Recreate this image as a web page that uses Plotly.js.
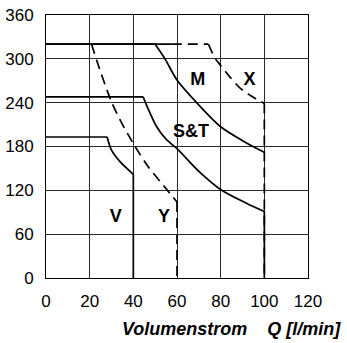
<!DOCTYPE html>
<html><head><meta charset="utf-8">
<script src="https://cdn.plot.ly/plotly-3.0.1.min.js"></script>
<style>html,body{margin:0;padding:0;background:#fff;}#c{width:347px;height:343px;}</style>
</head><body><div id="c"></div>
<script>
// V line
const vX = [0, 28, 30, 34, 40, 40];
const vY = [193, 193, 175, 159, 142, 0];
// Y line (dashed)
const yX = [20.9, 23.2, 30, 34.7, 40.8, 46.9, 53.7, 60, 60];
const yY = [320, 298, 241, 212, 180, 152, 127, 104, 0];
// S&T line
const stX = [0, 44.5, 47, 50.7, 55, 60, 70, 80.5, 92, 100, 100];
const stY = [248, 248, 230, 207, 190, 177, 146, 120, 102, 91, 0];
// M line
const mX = [0, 50, 54.5, 60, 69, 80, 90, 100];
const mY = [320, 320, 300, 271, 240, 207, 188, 172];
// common solid top line
const topX = [0, 57.6];
const topY = [320, 320];
// X line (dashed)
const xX = [57.6, 74.4, 77.4, 80, 84.3, 88.9, 95.7, 100, 100];
const xY = [320, 320, 301, 291, 275, 260, 246, 239, 0];
// labels
const labels = ["M", "X", "S&T", "V", "Y"];
const labelX = [69.5, 93.2, 66.4, 31.9, 54];
const labelY = [271, 271, 199, 83, 83];
const xTicks = [0, 20, 40, 60, 80, 100, 120];
const yTicks = [0, 60, 120, 180, 240, 300, 360];

const W = 1.7;
const solid = {color: '#000', width: W};
const dashed = {color: '#000', width: W, dash: '10px,6px'};
const traces = [];
// draw a line: linear segments outside [c0,c1], spline through curve part
function addLine(xs, ys, c0, c1, style) {
  if (c0 > 0) traces.push({x: xs.slice(0, c0 + 1), y: ys.slice(0, c0 + 1), mode: 'lines', line: style});
  traces.push({x: xs.slice(c0, c1 + 1), y: ys.slice(c0, c1 + 1), mode: 'lines',
    line: Object.assign({}, style, {shape: 'spline', smoothing: 0.8})});
  if (c1 < xs.length - 1) traces.push({x: xs.slice(c1), y: ys.slice(c1), mode: 'lines', line: style});
}
addLine(vX, vY, 1, 4, solid);
addLine(yX, yY, 0, 7, dashed);
addLine(stX, stY, 1, 9, solid);
addLine(mX, mY, 1, 7, solid);
traces.push({x: topX, y: topY, mode: 'lines', line: solid});
addLine(xX, xY, 1, 7, dashed);
traces.push({x: labelX, y: labelY, mode: 'text', text: labels,
  textfont: {family: 'Liberation Sans, Arial, sans-serif', size: 18, color: '#000', weight: 'bold'}});

const axisCommon = {
  showgrid: true, gridcolor: '#2a2a2a', gridwidth: 1,
  showline: true, linecolor: '#000', linewidth: 1, mirror: true,
  zeroline: false, ticks: 'outside', ticklen: 8, tickcolor: 'rgba(0,0,0,0)',
  tickfont: {family: 'Liberation Sans, Arial, sans-serif', size: 17, color: '#000'}
};
const layout = {
  width: 347, height: 343,
  margin: {l: 46, r: 39, t: 15, b: 65},
  paper_bgcolor: '#fff', plot_bgcolor: '#fff',
  showlegend: false,
  xaxis: Object.assign({}, axisCommon, {range: [0, 120], tickvals: xTicks, ticktext: xTicks.map(String)}),
  yaxis: Object.assign({}, axisCommon, {range: [0, 360], tickvals: yTicks, ticktext: yTicks.map(String)}),
  annotations: [{
    xref: 'paper', yref: 'paper', x: 1.1336, y: -0.194, xanchor: 'right', yanchor: 'middle',
    showarrow: false,
    text: '<b><i>Volumenstrom&nbsp;&nbsp;&nbsp;&nbsp;Q [l/min]</i></b>',
    font: {family: 'Liberation Sans, Arial, sans-serif', size: 18, color: '#000'}
  }]
};
Plotly.newPlot('c', traces, layout, {displayModeBar: false, staticPlot: true});
</script>
</body></html>
